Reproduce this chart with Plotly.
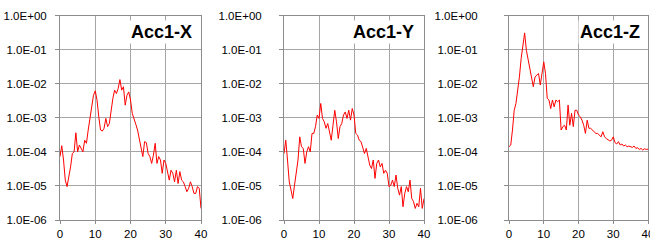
import plotly.graph_objects as go

freq_hz = [i * 0.5 for i in range(81)]

# log10 of spectral amplitude
acc1_x_log10 = [-4.14, -3.82, -4.24, -4.83, -5.02, -4.78, -4.44, -4.05, -4.00, -3.44,
                -4.00, -3.80, -3.90, -4.00, -3.66, -3.75, -3.36, -3.02, -2.58, -2.34,
                -2.21, -2.48, -2.97, -3.36, -3.39, -3.31, -3.02, -3.26, -3.17, -2.73,
                -2.43, -2.19, -2.29, -2.14, -1.88, -2.19, -2.09, -2.63, -2.34, -2.24,
                -2.48, -2.87, -3.07, -3.19, -3.36, -3.66, -3.85, -4.14, -3.70, -3.73,
                -4.05, -4.14, -4.34, -4.10, -3.75, -4.34, -4.14, -4.24, -4.63, -4.24,
                -4.34, -4.63, -4.83, -4.54, -4.63, -4.88, -4.54, -4.93, -4.58, -4.83,
                -4.88, -5.02, -5.17, -5.07, -4.88, -5.02, -5.22, -5.22, -5.02, -5.07,
                -5.66]
acc1_y_log10 = [-4.05, -3.66, -4.24, -4.88, -5.12, -5.37, -4.98, -4.63, -4.24, -3.56,
                -3.85, -3.90, -4.34, -4.00, -3.85, -4.00, -3.46, -3.46, -3.26, -2.92,
                -3.02, -2.58, -3.02, -3.12, -3.31, -3.17, -3.41, -3.66, -3.22, -2.78,
                -3.12, -3.61, -3.26, -3.17, -2.92, -2.83, -3.02, -2.78, -3.07, -2.73,
                -2.92, -3.46, -3.51, -3.66, -3.70, -3.85, -4.05, -3.90, -4.14, -4.39,
                -4.49, -4.24, -4.78, -4.34, -4.24, -4.44, -4.34, -4.63, -4.54, -4.63,
                -5.02, -4.98, -4.83, -5.02, -4.68, -5.07, -5.27, -5.02, -5.61, -5.22,
                -5.02, -5.17, -4.83, -5.37, -5.46, -5.66, -5.51, -5.61, -5.07, -5.66,
                -5.37]
acc1_z_log10 = [-3.85, -3.80, -3.36, -2.78, -2.58, -2.24, -1.80, -1.26, -0.82, -0.51,
                -1.02, -1.31, -1.51, -1.90, -2.09, -1.80, -1.75, -1.70, -2.04, -1.65,
                -1.36, -1.70, -2.43, -2.48, -2.73, -2.48, -2.68, -2.48, -2.53, -2.48,
                -3.36, -3.26, -3.22, -3.36, -2.63, -3.22, -2.87, -3.26, -2.78, -2.78,
                -2.92, -2.97, -3.07, -3.22, -3.46, -3.07, -3.31, -3.31, -3.36, -3.38,
                -3.46, -3.46, -3.51, -3.56, -3.41, -3.56, -3.61, -3.66, -3.68, -3.66,
                -3.56, -3.73, -3.77, -3.70, -3.80, -3.77, -3.83, -3.80, -3.85, -3.83,
                -3.85, -3.87, -3.83, -3.90, -3.88, -3.93, -3.90, -3.95, -3.91, -3.93,
                -3.92]

panel_titles = ["Acc1-X", "Acc1-Y", "Acc1-Z"]
y_tickvals = [1e-6, 1e-5, 1e-4, 1e-3, 1e-2, 1e-1, 1e0]
y_ticktext = ["1.0E-06", "1.0E-05", "1.0E-04", "1.0E-03", "1.0E-02", "1.0E-01", "1.0E+00"]
x_tickvals = [0, 10, 20, 30, 40]

W, H = 650, 242
panels_px = [(60, 201), (284, 424), (509, 648)]
title_right_px = [194, 416, 642]
standoffs = [6, 15, 24]
y_top_px, y_bot_px = 15.5, 220

series = [acc1_x_log10, acc1_y_log10, acc1_z_log10]

fig = go.Figure()
grid = "#a6a6a6"
for i, (vals, title) in enumerate(zip(series, panel_titles)):
    n = "" if i == 0 else str(i + 1)
    fig.add_trace(go.Scatter(
        x=freq_hz, y=[10 ** v for v in vals], mode="lines",
        line=dict(color="#ff0000", width=1), showlegend=False,
        xaxis="x" + n, yaxis="y" + n))
    x0, x1 = panels_px[i]
    fig.layout["xaxis" + n] = dict(
        domain=[x0 / W, x1 / W], range=[0, 40], anchor="y" + n, automargin=False,
        tickvals=x_tickvals, showgrid=True, gridcolor=grid, gridwidth=1,
        showline=True, linecolor="#8c8c8c", linewidth=1, mirror=True,
        ticks="outside", ticklen=3, tickcolor="#8c8c8c", zeroline=False,
        ticklabeloverflow="allow",
        tickfont=dict(family="Liberation Sans, Arial, sans-serif", size=11.5, color="#000000"))
    fig.layout["yaxis" + n] = dict(
        domain=[1 - y_bot_px / H, 1 - y_top_px / H], type="log", range=[-6, 0],
        anchor="x" + n, automargin=False, tickvals=y_tickvals, ticktext=y_ticktext,
        showgrid=True, gridcolor=grid, gridwidth=1,
        showline=True, linecolor="#8c8c8c", linewidth=1, mirror=True,
        ticks="outside", ticklen=4, tickcolor="#8c8c8c", zeroline=False,
        ticklabelstandoff=standoffs[i], ticklabeloverflow="allow",
        tickfont=dict(family="Liberation Sans, Arial, sans-serif", size=11.5, color="#000000"))
    fig.add_annotation(
        text="<b>" + title + "</b>", xref="paper", yref="paper",
        x=title_right_px[i] / W, y=1 - 32 / H, xanchor="right", yanchor="middle",
        showarrow=False, bgcolor="#ffffff", borderpad=1,
        font=dict(family="Liberation Sans, Arial, sans-serif", size=18, color="#000000"))

fig.update_layout(width=W, height=H, margin=dict(l=0, r=0, t=0, b=0),
                  paper_bgcolor="#ffffff", plot_bgcolor="#ffffff")
fig.write_html("out.html", config={"displayModeBar": False},
               post_script="document.body.style.margin='0';")
